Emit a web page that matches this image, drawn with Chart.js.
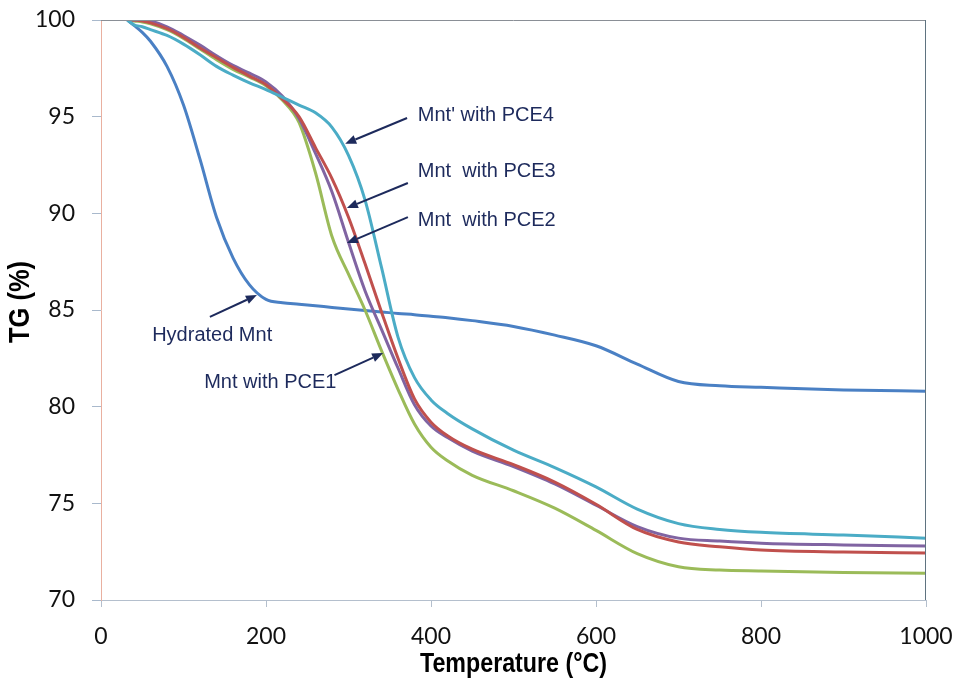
<!DOCTYPE html>
<html>
<head>
<meta charset="utf-8">
<script src="https://cdn.jsdelivr.net/npm/chart.js@4.4.1/dist/chart.umd.min.js"></script>
<style>
html,body{margin:0;padding:0;background:#ffffff;}
#wrap{width:955px;height:678px;position:relative;}
</style>
</head>
<body>
<div id="wrap"><canvas id="c" width="955" height="678"></canvas></div>
<script>
// ---- data ----
const temperatures = [32,40,50,60,80,100,120,140,160,180,200,220,240,260,280,300,320,340,360,380,400,420,450,500,550,600,650,700,750,800,900,1000];
const hydratedMnt = [100,99.72,99.36,98.9,97.6,95.6,92.8,89.8,87.7,86.3,85.55,85.38,85.3,85.22,85.13,85.05,84.97,84.9,84.82,84.76,84.68,84.6,84.45,84.15,83.7,83.15,82.2,81.3,81.08,81.0,80.86,80.8];
const mntPCE1 = [100,99.95,99.9,99.8,99.5,99.05,98.5,97.95,97.45,97.05,96.6,95.85,94.7,92.1,88.8,86.85,85.0,82.9,80.9,79.1,77.9,77.2,76.45,75.65,74.75,73.6,72.4,71.72,71.55,71.5,71.42,71.38];
const mntPCE2 = [100,100,100,99.95,99.65,99.2,98.7,98.15,97.65,97.25,96.8,96.05,94.9,93.1,91.1,88.5,86.0,84.0,82.0,80.1,79.0,78.4,77.7,76.9,76.0,74.9,73.8,73.2,73.05,72.94,72.85,72.79];
const mntPCE3 = [100,100,99.95,99.85,99.55,99.1,98.55,98.05,97.55,97.1,96.65,95.9,95.0,93.4,91.8,89.8,87.4,84.9,82.5,80.4,79.2,78.5,77.8,77.0,76.1,74.95,73.65,73.0,72.75,72.58,72.48,72.43];
const mntPCE4 = [100,99.75,99.65,99.5,99.2,98.75,98.2,97.6,97.15,96.75,96.4,96.0,95.6,95.2,94.45,93.0,90.7,87.2,83.6,81.5,80.35,79.65,78.85,77.75,76.85,75.85,74.7,73.95,73.65,73.5,73.36,73.2];
const seriesNames = ["Hydrated Mnt","Mnt with PCE1","Mnt with PCE2","Mnt with PCE3","Mnt with PCE4"];
const xTicks = [0,200,400,600,800,1000];
const yTicks = [70,75,80,85,90,95,100];
const xTitle = 'Temperature (°C)';
const yTitle = 'TG (%)';

// annotation labels with arrows, anchored in data units
const annotations = [
  {text:"Mnt' with PCE4", tx:384, ty:95.08, fx:371, fy:94.93, ax:296, ay:93.6},
  {text:"Mnt  with PCE3", tx:384, ty:92.14, fx:372, fy:91.57, ax:298, ay:90.27},
  {text:"Mnt  with PCE2", tx:384, ty:89.65, fx:372, fy:89.8, ax:298, ay:88.46},
  {text:"Hydrated Mnt", tx:62, ty:83.7, fx:132, fy:84.64, ax:189, ay:85.77},
  {text:"Mnt with PCE1", tx:125, ty:81.27, fx:283, fy:81.63, ax:342, ay:82.77}
];

const seriesValues = [hydratedMnt, mntPCE1, mntPCE2, mntPCE3, mntPCE4];
const seriesColors = ['#4a80c4','#9bbb59','#8064a2','#c0504d','#4bacc6'];
const seriesOrder = [5,4,3,2,1];

const datasets = seriesValues.map((vals, i) => ({
  label: seriesNames[i],
  data: temperatures.map((t, j) => ({x: t, y: vals[j]})),
  borderColor: seriesColors[i],
  backgroundColor: seriesColors[i],
  borderWidth: 3,
  pointRadius: 0,
  fill: false,
  cubicInterpolationMode: 'monotone',
  order: seriesOrder[i]
}));

const framePlugin = {
  id: 'frame',
  afterDatasetsDraw(chart) {
    const {ctx, chartArea: a} = chart;
    ctx.save();
    ctx.lineWidth = 1;
    ctx.strokeStyle = '#8a8f96';
    ctx.beginPath(); ctx.moveTo(a.left, a.top + 0.5); ctx.lineTo(a.right, a.top + 0.5); ctx.stroke();
    ctx.strokeStyle = '#5f7380';
    ctx.beginPath(); ctx.moveTo(a.right - 0.5, a.top); ctx.lineTo(a.right - 0.5, a.bottom); ctx.stroke();
    ctx.restore();
  }
};

const titlePlugin = {
  id: 'titles',
  afterDraw(chart) {
    const {ctx, chartArea: a} = chart;
    ctx.save();
    ctx.fillStyle = '#000';
    ctx.font = 'bold 28px "Liberation Sans", Arial, sans-serif';
    ctx.textAlign = 'center';
    ctx.textBaseline = 'middle';
    ctx.save();
    ctx.translate((a.left + a.right) / 2, 664);
    ctx.scale(0.83, 1);
    ctx.fillText(xTitle, 0, 0);
    ctx.restore();
    ctx.save();
    ctx.translate(21, (a.top + a.bottom) / 2 - 8);
    ctx.rotate(-Math.PI / 2);
    ctx.scale(0.85, 1);
    ctx.font = 'bold 30px "Liberation Sans", Arial, sans-serif';
    ctx.fillText(yTitle, 0, 0);
    ctx.restore();
    ctx.restore();
  }
};

const annotationPlugin = {
  id: 'arrows',
  afterDatasetsDraw(chart) {
    const {ctx, scales: {x, y}} = chart;
    ctx.save();
    ctx.font = '20px "Liberation Sans", Arial, sans-serif';
    ctx.textBaseline = 'middle';
    ctx.textAlign = 'left';
    annotations.forEach(a => {
      ctx.fillStyle = '#1d2a5c';
      ctx.fillText(a.text, x.getPixelForValue(a.tx), y.getPixelForValue(a.ty));
      const x1 = x.getPixelForValue(a.fx), y1 = y.getPixelForValue(a.fy);
      const x2 = x.getPixelForValue(a.ax), y2 = y.getPixelForValue(a.ay);
      const ang = Math.atan2(y2 - y1, x2 - x1);
      const hl = 11, hw = 4.5;
      const bx = x2 - hl * Math.cos(ang), by = y2 - hl * Math.sin(ang);
      ctx.strokeStyle = '#1d2a5c';
      ctx.lineWidth = 2;
      ctx.beginPath(); ctx.moveTo(x1, y1); ctx.lineTo(bx, by); ctx.stroke();
      ctx.beginPath();
      ctx.moveTo(x2, y2);
      ctx.lineTo(bx + hw * Math.sin(ang), by - hw * Math.cos(ang));
      ctx.lineTo(bx - hw * Math.sin(ang), by + hw * Math.cos(ang));
      ctx.closePath();
      ctx.fill();
    });
    ctx.restore();
  }
};

const tickFont = {family: 'Lato, "Open Sans", sans-serif', size: 23};

new Chart(document.getElementById('c').getContext('2d'), {
  type: 'line',
  data: {datasets},
  plugins: [framePlugin, annotationPlugin, titlePlugin],
  options: {
    responsive: false,
    animation: false,
    devicePixelRatio: 1,
    layout: {padding: {left: 0, right: 29, top: 20, bottom: 0}},
    plugins: {legend: {display: false}, tooltip: {enabled: false}},
    scales: {
      x: {
        type: 'linear', min: 0, max: 1000,
        afterBuildTicks(s) { s.ticks = xTicks.map(v => ({value: v})); },
        ticks: {font: tickFont, color: '#111', padding: 16, maxRotation: 0, callback: v => String(v)},
        grid: {drawOnChartArea: false, tickLength: 7, color: '#b4bfcd', lineWidth: 1},
        border: {color: '#b4bfcd', width: 1},
        title: {display: false, text: xTitle},
        afterFit(s) { s.height = 78; s.paddingLeft = 0; s.paddingRight = 0; }
      },
      y: {
        type: 'linear', min: 70, max: 100,
        afterBuildTicks(s) { s.ticks = yTicks.map(v => ({value: v})); },
        ticks: {font: tickFont, color: '#111', padding: 17, callback: v => String(v)},
        grid: {drawOnChartArea: false, tickLength: 9, color: '#a9b9cc', lineWidth: 1},
        border: {color: '#e9b0a0', width: 1},
        title: {display: false, text: yTitle},
        afterFit(s) { s.width = 101; s.paddingTop = 0; s.paddingBottom = 0; }
      }
    }
  }
});
</script>
</body>
</html>
